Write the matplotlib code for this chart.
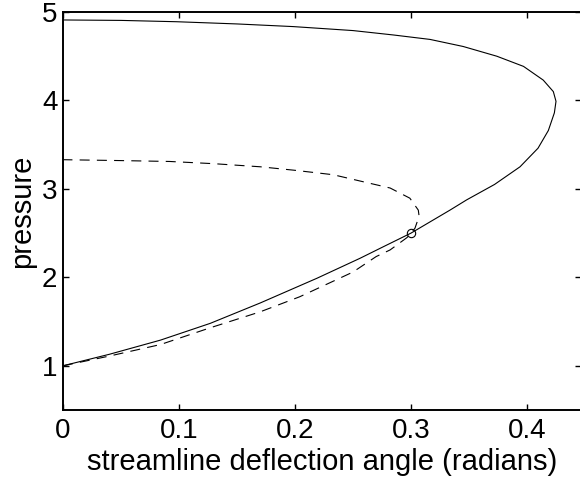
import matplotlib
matplotlib.use("Agg")
import matplotlib.pyplot as plt

plt.rcParams['font.family'] = ['Liberation Sans', 'DejaVu Sans']

# shock polar, solid
polar_x = [0.0, 0.04, 0.084, 0.127, 0.17, 0.219, 0.256, 0.276, 0.30, 0.3336,
           0.348, 0.372, 0.394, 0.4095, 0.4184, 0.4236, 0.425, 0.4227, 0.414,
           0.397, 0.374, 0.345, 0.3164, 0.285, 0.25, 0.1985, 0.15, 0.098,
           0.05, 0.0]
polar_p = [1.0, 1.13, 1.29, 1.48, 1.71, 1.99, 2.215, 2.345, 2.50, 2.76,
           2.876, 3.05, 3.25, 3.46, 3.66, 3.86, 3.99, 4.10, 4.23,
           4.385, 4.50, 4.61, 4.69, 4.74, 4.79, 4.835, 4.865, 4.89,
           4.905, 4.91]

# second polar, dashed
polar2_x = [0.0, 0.04, 0.084, 0.127, 0.17, 0.204, 0.25, 0.270, 0.282, 0.2966,
            0.3034, 0.307, 0.3063, 0.299, 0.282, 0.259, 0.233, 0.20, 0.17,
            0.13, 0.092, 0.05, 0.0]
polar2_p = [1.0, 1.11, 1.24, 1.43, 1.61, 1.78, 2.06, 2.235, 2.31, 2.45,
            2.555, 2.69, 2.76, 2.895, 3.01, 3.08, 3.16, 3.21, 3.25,
            3.285, 3.31, 3.32, 3.33]

# intersection
cross_x = [0.30]
cross_p = [2.50]

fig = plt.figure(figsize=(5.8, 4.8), dpi=100)
ax = fig.add_axes([63 / 580, 70 / 480, 518 / 580, 398 / 480])

ax.plot(polar_x, polar_p, color='black', lw=0.8)
ax.plot(polar2_x, polar2_p, color='black', lw=0.8, dashes=[9, 6.5])
ax.plot(cross_x, cross_p, 'o', mfc='none', mec='black', ms=6, mew=0.8)

ax.set_xlim(0, 518 / 1160)
ax.set_ylim(0.5, 5)
ax.set_xticks([0, 0.1, 0.2, 0.3, 0.4])
ax.set_xticklabels(['0', '0.1', '0.2', '0.3', '0.4'])
ax.set_yticks([1, 2, 3, 4, 5])

for s in ax.spines.values():
    s.set_linewidth(1.4)
ax.tick_params(direction='in', length=4, width=1, top=True, right=True,
               labelsize=20)
ax.tick_params(axis='x', pad=6)
ax.tick_params(axis='y', pad=4)

ax.set_xlabel('streamline deflection angle (radians)', fontsize=21, labelpad=3)
ax.set_ylabel('pressure', fontsize=21, labelpad=4)

fig.savefig('out.png', dpi=100)
